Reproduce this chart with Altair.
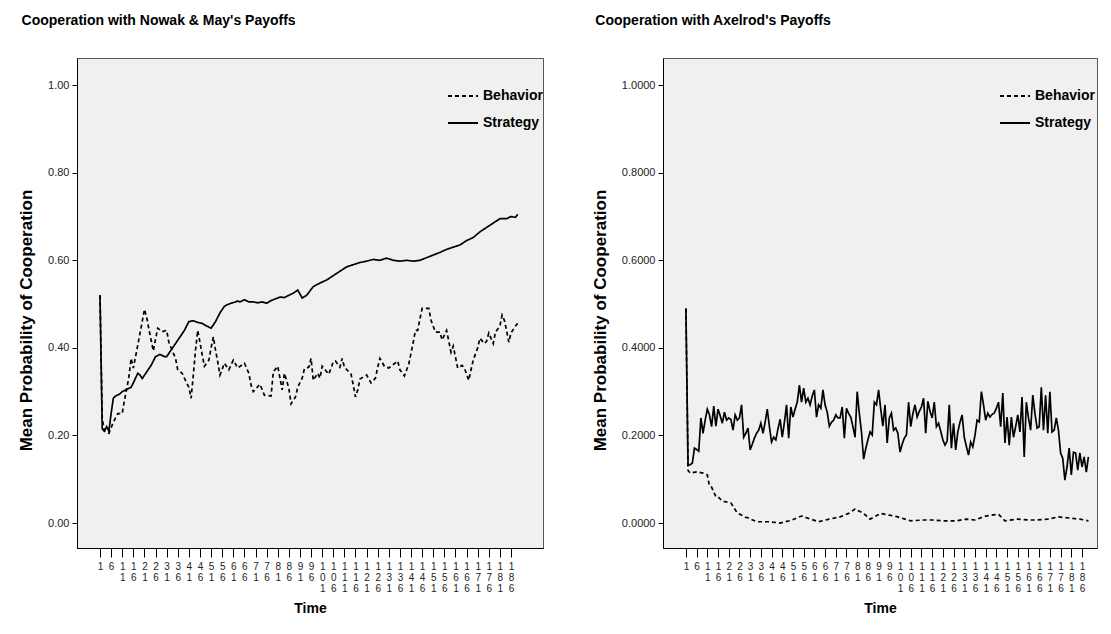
import altair as alt
import pandas as pd

# ---------------- data ----------------
TIME_TICKS = list(range(1, 187, 5))
SERIES = ["Behavior", "Strategy"]

# Nowak & May payoffs
nm_strategy_t = [1, 2, 3, 4, 5, 6, 7, 8, 10, 11, 13, 15, 16, 18, 19, 20, 22, 24, 26, 28, 30, 31, 33, 35,
                 37, 39, 41, 43, 45, 47, 49, 51, 53, 55, 57, 58, 60, 62, 63, 64, 66, 68, 70, 72, 74, 76,
                 78, 80, 82, 84, 86, 88, 90, 92, 94, 97, 100, 103, 106, 109, 112, 115, 118, 121, 124,
                 127, 130, 133, 136, 139, 142, 145, 148, 151, 154, 157, 160, 163, 166, 169, 172, 175,
                 178, 181, 184, 186, 188, 189]
nm_strategy_v = [0.52, 0.215, 0.21, 0.22, 0.21, 0.25, 0.285, 0.29, 0.295, 0.30, 0.305, 0.31, 0.32, 0.342,
                 0.338, 0.33, 0.345, 0.36, 0.38, 0.385, 0.38, 0.38, 0.395, 0.41, 0.425, 0.44, 0.46, 0.462,
                 0.458, 0.456, 0.45, 0.445, 0.46, 0.48, 0.495, 0.498, 0.502, 0.505, 0.507, 0.505, 0.51,
                 0.505, 0.505, 0.503, 0.505, 0.502, 0.508, 0.512, 0.516, 0.515, 0.52, 0.525, 0.532, 0.514,
                 0.52, 0.54, 0.548, 0.555, 0.565, 0.575, 0.585, 0.59, 0.595, 0.598, 0.602, 0.60, 0.605,
                 0.60, 0.598, 0.60, 0.598, 0.60, 0.606, 0.612, 0.618, 0.625, 0.63, 0.635, 0.645, 0.652,
                 0.665, 0.675, 0.685, 0.695, 0.695, 0.70, 0.698, 0.705]

nm_behavior_t = [1, 2, 3, 5, 7, 9, 11, 12, 14, 15, 16, 17, 18, 19, 20, 21, 22, 23, 24, 25, 26, 27, 29, 31,
                 32, 33, 35, 36, 38, 40, 41, 42, 43, 44, 45, 46, 47, 48, 50, 51, 52, 53, 54, 55, 57, 59,
                 61, 63, 66, 68, 69, 70, 73, 75, 78, 79, 81, 82, 83, 84, 86, 87, 89, 90, 92, 93, 95, 96,
                 97, 99, 100, 101, 104, 106, 107, 109, 110, 111, 114, 115, 116, 117, 118, 121, 123, 125,
                 126, 127, 129, 131, 132, 135, 136, 138, 140, 141, 142, 143, 144, 145, 146, 149, 150, 152,
                 154, 155, 157, 158, 159, 160, 161, 162, 164, 165, 167, 168, 169, 171, 172, 174, 175, 176,
                 178, 179, 181, 182, 183, 184, 185, 186, 188, 189]
nm_behavior_v = [0.52, 0.24, 0.21, 0.205, 0.23, 0.25, 0.25, 0.28, 0.333, 0.376, 0.354, 0.38, 0.406, 0.433,
                 0.46, 0.488, 0.47, 0.443, 0.418, 0.393, 0.42, 0.445, 0.437, 0.44, 0.413, 0.40, 0.376, 0.35,
                 0.342, 0.32, 0.31, 0.285, 0.338, 0.395, 0.44, 0.413, 0.384, 0.358, 0.372, 0.40, 0.425,
                 0.395, 0.368, 0.338, 0.365, 0.35, 0.372, 0.354, 0.365, 0.342, 0.315, 0.30, 0.317, 0.292,
                 0.29, 0.345, 0.358, 0.331, 0.304, 0.342, 0.308, 0.272, 0.288, 0.31, 0.331, 0.352, 0.356,
                 0.376, 0.326, 0.342, 0.331, 0.358, 0.34, 0.368, 0.37, 0.356, 0.376, 0.356, 0.34, 0.315,
                 0.288, 0.304, 0.329, 0.338, 0.32, 0.331, 0.356, 0.376, 0.358, 0.354, 0.358, 0.37, 0.35,
                 0.336, 0.363, 0.388, 0.413, 0.44, 0.44, 0.466, 0.49, 0.49, 0.463, 0.436, 0.436, 0.418,
                 0.44, 0.415, 0.39, 0.404, 0.379, 0.354, 0.36, 0.354, 0.326, 0.35, 0.372, 0.40, 0.422,
                 0.41, 0.415, 0.434, 0.41, 0.436, 0.45, 0.475, 0.463, 0.44, 0.413, 0.434, 0.45, 0.456]

# Axelrod payoffs (strategy read at every time step 1..189)
ax_strategy_v = [0.49, 0.132, 0.133, 0.137, 0.171, 0.168, 0.164, 0.24, 0.205, 0.235, 0.26, 0.247, 0.22,
                 0.267, 0.221, 0.26, 0.245, 0.228, 0.253, 0.235, 0.24, 0.237, 0.212, 0.247, 0.235, 0.24,
                 0.27, 0.196, 0.205, 0.217, 0.167, 0.18, 0.194, 0.205, 0.212, 0.228, 0.205, 0.23, 0.26,
                 0.22, 0.185, 0.196, 0.19, 0.215, 0.237, 0.196, 0.23, 0.27, 0.194, 0.265, 0.242, 0.26,
                 0.276, 0.315, 0.276, 0.308, 0.276, 0.285, 0.27, 0.29, 0.304, 0.242, 0.27, 0.262, 0.304,
                 0.27, 0.253, 0.221, 0.23, 0.235, 0.247, 0.24, 0.24, 0.265, 0.194, 0.262, 0.25, 0.242,
                 0.22, 0.196, 0.30, 0.25, 0.208, 0.146, 0.17, 0.19, 0.208, 0.201, 0.276, 0.27, 0.304,
                 0.26, 0.221, 0.27, 0.183, 0.24, 0.251, 0.212, 0.217, 0.205, 0.162, 0.18, 0.194, 0.201,
                 0.276, 0.22, 0.25, 0.27, 0.242, 0.255, 0.265, 0.285, 0.205, 0.278, 0.255, 0.24, 0.276,
                 0.22, 0.228, 0.21, 0.19, 0.178, 0.187, 0.27, 0.171, 0.228, 0.167, 0.208, 0.23, 0.247,
                 0.196, 0.175, 0.155, 0.185, 0.174, 0.20, 0.235, 0.231, 0.30, 0.27, 0.235, 0.251, 0.242,
                 0.248, 0.251, 0.262, 0.276, 0.22, 0.297, 0.183, 0.242, 0.178, 0.242, 0.196, 0.22, 0.247,
                 0.208, 0.288, 0.151, 0.276, 0.24, 0.212, 0.292, 0.251, 0.217, 0.22, 0.31, 0.212, 0.292,
                 0.205, 0.30, 0.208, 0.212, 0.24, 0.212, 0.16, 0.148, 0.098, 0.128, 0.171, 0.11, 0.162,
                 0.16, 0.121, 0.16, 0.128, 0.151, 0.116, 0.151]
ax_strategy_t = list(range(1, len(ax_strategy_v) + 1))

ax_behavior_t = [1, 2, 3, 6, 9, 11, 12, 13, 15, 16, 18, 22, 25, 29, 30, 34, 40, 45, 50, 55, 58, 63, 68, 73,
                 77, 80, 84, 87, 92, 96, 100, 106, 112, 116, 121, 127, 132, 136, 141, 147, 150, 156, 161,
                 165, 170, 175, 181, 185, 189]
ax_behavior_v = [0.49, 0.12, 0.114, 0.117, 0.114, 0.11, 0.085, 0.082, 0.06, 0.06, 0.05, 0.046, 0.023,
                 0.013, 0.012, 0.003, 0.003, 0.0, 0.006, 0.016, 0.011, 0.003, 0.009, 0.014, 0.022, 0.032,
                 0.022, 0.009, 0.022, 0.018, 0.014, 0.005, 0.007, 0.007, 0.005, 0.005, 0.009, 0.007, 0.016,
                 0.02, 0.005, 0.009, 0.007, 0.007, 0.009, 0.014, 0.011, 0.009, 0.005]

Y_TICKS = [0.0, 0.2, 0.4, 0.6, 0.8, 1.0]
FONT = "Liberation Sans"


def make_frame(t_beh, v_beh, t_str, v_str):
    a = pd.DataFrame({"Time": t_beh, "Value": v_beh, "Series": SERIES[0]})
    b = pd.DataFrame({"Time": t_str, "Value": v_str, "Series": SERIES[1]})
    return pd.concat([a, b], ignore_index=True)


def panel(df, title, fmt, xdomain, width, legend_x):
    return alt.Chart(df).mark_line(color="black", strokeWidth=1.7, strokeCap="butt").encode(
        x=alt.X("Time:Q",
                scale=alt.Scale(domain=xdomain, nice=False, zero=False),
                axis=alt.Axis(values=TIME_TICKS, format="d", labelExpr="split(datum.label, '')",
                              title="Time", tickSize=9, labelFontSize=10, labelLineHeight=11,
                              labelPadding=4, titlePadding=8, labelOverlap=False,
                              labelFlush=False, titleFontSize=14)),
        y=alt.Y("Value:Q",
                scale=alt.Scale(domain=[-0.057, 1.062], nice=False, zero=False),
                axis=alt.Axis(values=Y_TICKS, format=fmt, title="Mean Probability of Cooperation",
                              tickSize=5, labelFontSize=11, labelPadding=3, titlePadding=12,
                              titleFontSize=17, titleY=262)),
        strokeDash=alt.StrokeDash(
            "Series:N",
            scale=alt.Scale(domain=SERIES, range=[[4, 3], [1, 0]]),
            legend=alt.Legend(title=None, orient="none", legendX=legend_x, legendY=22,
                              symbolType="stroke", symbolSize=900, symbolStrokeWidth=2,
                              symbolStrokeColor="black", labelFontSize=14, labelFontWeight="bold",
                              labelColor="black", labelOffset=4, rowPadding=4, padding=0)),
        order=alt.Order("Time:Q"),
    ).properties(
        width=width, height=490,
        title=alt.TitleParams(title, anchor="start", fontSize=14, fontWeight="bold", offset=30,
                              color="black", font=FONT, dx=4),
    )


left = panel(make_frame(nm_behavior_t, nm_behavior_v, nm_strategy_t, nm_strategy_v),
             "Cooperation with Nowak & May's Payoffs", ".2f", [-9.35, 200.4], 466, 370)
right = panel(make_frame(ax_behavior_t, ax_behavior_v, ax_strategy_t, ax_strategy_v),
              "Cooperation with Axelrod's Payoffs", ".4f", [-9.7, 193.0], 434, 336)

chart = alt.hconcat(left, right, spacing=46).resolve_scale(
    strokeDash="independent"
).resolve_legend(
    strokeDash="independent"
).properties(
    padding={"left": 9, "top": 5, "right": 0, "bottom": 0}
).configure(
    font=FONT, background="white"
).configure_view(
    fill="#F0F0F0", stroke="#555555", strokeWidth=1
).configure_axis(
    domainColor="black", tickColor="black", labelColor="#222222", titleColor="black",
    titleFontWeight="bold", grid=False, labelFont=FONT, titleFont=FONT
)

chart.save("out.html", embed_options={"renderer": "svg", "actions": False})
